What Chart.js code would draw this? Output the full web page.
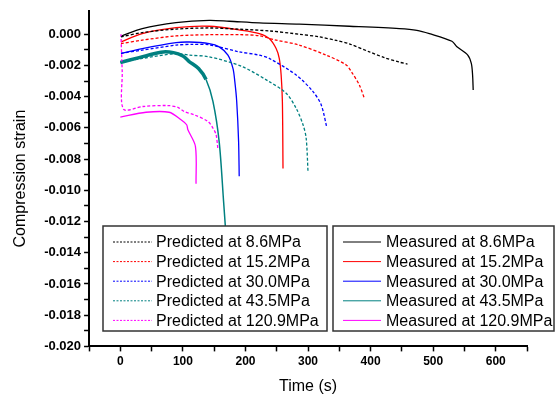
<!DOCTYPE html>
<html>
<head>
<meta charset="utf-8">
<script src="https://cdn.jsdelivr.net/npm/chart.js@4.4.1/dist/chart.umd.min.js"></script>
<style>
  html, body { margin: 0; padding: 0; background: #fff; }
  #wrap { width: 556px; height: 400px; }
</style>
</head>
<body>
<div id="wrap"><canvas id="strainChart" width="556" height="400"></canvas></div>
<script>
// series values: [time (s), compression strain]
var predicted86 = [[1,-0.00017],[35,0.0001],[89,0.00033],[142,0.0004],[190,0.00032],[238,0.00021],[286,0.0],[318,-0.00017],[345,-0.0004],[366,-0.00062],[398,-0.00113],[422,-0.0015],[445,-0.00178],[459,-0.00191]];
var predicted152 = [[1,-0.0006],[35,-0.00038],[89,-0.00011],[142,-0.00003],[190,-0.00003],[222,-0.0001],[246,-0.00035],[286,-0.0007],[329,-0.00134],[361,-0.00197],[371,-0.00251],[382,-0.00325],[390,-0.0041]];
var predicted30 = [[1,-0.00122],[35,-0.00102],[89,-0.0007],[115,-0.00065],[142,-0.00068],[190,-0.00113],[222,-0.00134],[238,-0.00155],[281,-0.00261],[308,-0.00368],[321,-0.00452],[330,-0.00597]];
var predicted435 = [[0,-0.00181],[35,-0.00155],[89,-0.00124],[110,-0.00134],[142,-0.00145],[195,-0.00208],[238,-0.00304],[265,-0.00378],[281,-0.00474],[292,-0.0058],[297,-0.00665],[300,-0.00884]];
var predicted1209 = [[1,0.0],[3,-0.0024],[5,-0.0048],[36,-0.00463],[76,-0.00457],[92,-0.00469],[102,-0.00495],[118,-0.00516],[140,-0.00559],[148,-0.00601],[153,-0.00643],[156,-0.00739]];

var measured86 = [[1,-0.00013],[35,0.00036],[89,0.00074],[142,0.00089],[174,0.00083],[222,0.00072],[286,0.00064],[366,0.00051],[446,0.00036],[474,0.00025],[494,0.00004],[530,-0.00045],[538,-0.00081],[555,-0.00132],[561,-0.00187],[563,-0.0026],[564,-0.00357]];
var measured152 = [[1,-0.00049],[35,0.00004],[89,0.00042],[142,0.00051],[195,0.00025],[222,0.00004],[238,-0.00028],[249,-0.00092],[254,-0.00155],[257,-0.0026],[259,-0.0043],[260,-0.0086]];
var measured30 = [[1,-0.00124],[35,-0.00092],[89,-0.00054],[110,-0.0005],[142,-0.0006],[158,-0.00081],[172,-0.00134],[180,-0.00219],[183,-0.00304],[186,-0.00431],[189,-0.00686],[190,-0.0091]];
var measured435 = [[0,-0.00181],[30,-0.0015],[65,-0.00115],[85,-0.00118],[100,-0.0014],[110,-0.00175],[125,-0.0022],[137,-0.0029],[148,-0.0043],[158,-0.0069],[165,-0.0107],[168,-0.0124],[172,-0.0145]];
var measured1209 = [[0,-0.00531],[41,-0.005],[78,-0.005],[97,-0.00548],[106,-0.0058],[108,-0.00612],[120,-0.00718],[121,-0.00958]];

var pressures = ['8.6MPa', '15.2MPa', '30.0MPa', '43.5MPa', '120.9MPa'];
var xTickLabels = [0, 100, 200, 300, 400, 500, 600];
var yTickLabels = [0.000, -0.002, -0.004, -0.006, -0.008, -0.010, -0.012, -0.014, -0.016, -0.018, -0.020];

var colors = ['#000000', '#ff0000', '#0000ff', '#008080', '#ff00ff'];
var predicted = [predicted86, predicted152, predicted30, predicted435, predicted1209];
var measured = [measured86, measured152, measured30, measured435, measured1209];
var FONT = "'Liberation Sans', Arial, sans-serif";

function toPoints(arr) {
    return arr.map(function (p) { return { x: p[0], y: p[1] }; });
}

var datasets = [];
predicted.forEach(function (arr, i) {
    datasets.push({
        label: 'Predicted at ' + pressures[i],
        data: toPoints(arr),
        borderColor: colors[i],
        borderWidth: 1.3,
        borderDash: [3, 2],
        pointRadius: 0,
        fill: false,
        tension: 0.3
    });
});
measured.forEach(function (arr, i) {
    var ds = {
        label: 'Measured at ' + pressures[i],
        data: toPoints(arr),
        borderColor: colors[i],
        borderWidth: 1.3,
        pointRadius: 0,
        fill: false,
        tension: 0.3
    };
    if (i === 3) {
        // thick noisy band at the start of the 43.5MPa record
        ds.segment = {
            borderWidth: function (ctx) { return ctx.p0.parsed.y > -0.0028 ? 3.5 : 1.5; }
        };
    }
    datasets.push(ds);
});

function isIn(list, v) {
    return list.some(function (t) { return Math.abs(t - v) < 1e-9; });
}

// two boxed legends drawn over the plot
var boxLegends = {
    id: 'boxLegends',
    afterDraw: function (chart) {
        var ctx = chart.ctx;
        var boxes = [
            { x: 103, y: 226, w: 224, h: 105, lineX: 113, lineW: 39, textX: 156, from: 0 },
            { x: 333, y: 226, w: 221, h: 105, lineX: 343, lineW: 38, textX: 386, from: 5 }
        ];
        ctx.save();
        boxes.forEach(function (b) {
            ctx.fillStyle = '#fff';
            ctx.fillRect(b.x, b.y, b.w, b.h);
            ctx.strokeStyle = '#333';
            ctx.lineWidth = 1.5;
            ctx.setLineDash([]);
            ctx.strokeRect(b.x, b.y, b.w, b.h);
            for (var k = 0; k < 5; k++) {
                var ds = chart.data.datasets[b.from + k];
                var cy = b.y + 16 + k * 19.6;
                ctx.beginPath();
                ctx.strokeStyle = ds.borderColor;
                ctx.lineWidth = 1;
                ctx.setLineDash(ds.borderDash ? [2, 1.5] : []);
                ctx.moveTo(b.lineX, cy);
                ctx.lineTo(b.lineX + b.lineW, cy);
                ctx.stroke();
                ctx.setLineDash([]);
                ctx.fillStyle = '#000';
                ctx.font = '16px ' + FONT;
                ctx.textBaseline = 'middle';
                ctx.fillText(ds.label, b.textX, cy + 1);
            }
        });
        ctx.restore();
    }
};

var canvas = document.getElementById('strainChart');
var strainChart = new Chart(canvas.getContext('2d'), {
    type: 'line',
    data: { datasets: datasets },
    options: {
        responsive: false,
        animation: false,
        layout: { padding: { left: 11, right: 29, top: 9, bottom: 4 } },
        plugins: {
            legend: { display: false },
            tooltip: { enabled: false }
        },
        scales: {
            x: {
                type: 'linear',
                min: -50,
                max: 650,
                ticks: {
                    stepSize: 50,
                    autoSkip: false,
                    maxRotation: 0,
                    padding: 3,
                    color: '#000',
                    font: { family: FONT, size: 12, weight: 'bold' },
                    callback: function (v) { return isIn(xTickLabels, v) ? String(v) : ''; }
                },
                grid: { drawOnChartArea: false, drawTicks: true, tickLength: 5, tickColor: '#000', tickWidth: 1.5 },
                border: { color: '#000', width: 2 },
                title: { display: true, text: 'Time (s)', color: '#000', font: { family: FONT, size: 16 }, padding: { top: 5, bottom: 0 } }
            },
            y: {
                type: 'linear',
                min: -0.020,
                max: 0.0015,
                afterBuildTicks: function (scale) {
                    scale.ticks = scale.ticks.filter(function (t) {
                        var k = t.value * 1000;
                        return Math.abs(k - Math.round(k)) < 1e-6;
                    });
                },
                ticks: {
                    stepSize: 0.001,
                    autoSkip: false,
                    padding: 3,
                    color: '#000',
                    font: { family: FONT, size: 13, weight: 'bold' },
                    callback: function (v) {
                        if (!isIn(yTickLabels, v)) return '';
                        return Math.abs(v) < 1e-9 ? '0.000' : v.toFixed(3);
                    }
                },
                grid: { drawOnChartArea: false, drawTicks: true, tickLength: 5, tickColor: '#000', tickWidth: 1.5 },
                border: { color: '#000', width: 2 },
                title: { display: true, text: 'Compression strain', color: '#000', font: { family: FONT, size: 16 }, padding: { top: 0, bottom: 11 } }
            }
        }
    },
    plugins: [boxLegends]
});
</script>
</body>
</html>
